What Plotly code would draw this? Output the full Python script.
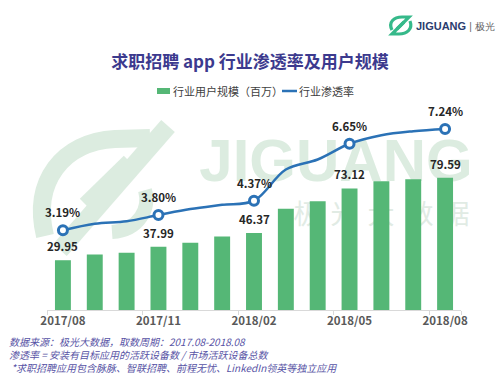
import plotly.graph_objects as go

# ---------------- data ----------------
months = ["2017/08", "2017/09", "2017/10", "2017/11", "2017/12", "2018/01", "2018/02",
          "2018/03", "2018/04", "2018/05", "2018/06", "2018/07", "2018/08"]
users_mn = [29.95, 33.4, 34.4, 37.99, 40.4, 44.2, 46.37, 60.9, 65.5, 73.12, 77.5, 78.7, 79.59]
penetration = [3.19, 3.45, 3.55, 3.80, 4.04, 4.21, 4.37, 5.62, 6.02, 6.65, 6.99, 7.15, 7.24]
labeled_idx = [0, 3, 6, 9, 12]
tick_months = [months[i] for i in labeled_idx]

title_text = "求职招聘 app 行业渗透率及用户规模"
legend_bar = "行业用户规模（百万）"
legend_line = "行业渗透率"
notes = ["数据来源：极光大数据，取数周期：2017.08-2018.08",
         "渗透率 = 安装有目标应用的活跃设备数 / 市场活跃设备总数",
         " *求职招聘应用包含脉脉、智联招聘、前程无忧、LinkedIn领英等独立应用"]

# ---------------- style ----------------
W, H = 500, 375
ML, MR, MT, MB = 47, 39, 100, 65
PW, PH = W - ML - MR, H - MT - MB
FONT = "Noto Sans CJK SC"
BAR_C = "#55b776"
LINE_C = "#2b72b6"
TITLE_C = "#3c3a8e"
NOTE_C = "#5753a5"
WM_C = "#dcece0"


def px(x):
    return (x - ML) / PW


def py(y):
    return (H - MB - y) / PH


def path(pts_cmd):
    out = []
    for tok in pts_cmd:
        if isinstance(tok, str):
            out.append(tok)
        else:
            out.append(f"{px(tok[0]):.4f},{py(tok[1]):.4f}")
    return " ".join(out)


fig = go.Figure()

# watermark (base subplot, drawn beneath the chart)
fig.add_trace(go.Scatter(
    x=[px(336)], y=[py(166)], mode="text", text=["JIGUANG"], cliponaxis=False,
    textfont=dict(family="Liberation Sans", size=60, color=WM_C, weight="bold"),
    hoverinfo="skip", showlegend=False, xaxis="x", yaxis="y"))
fig.add_trace(go.Scatter(
    x=[px(v) for v in (307, 344, 381, 420, 456)], y=[py(217)] * 5, mode="text",
    text=list("极光大数据"), cliponaxis=False,
    textfont=dict(family=FONT, size=27, color="#e1ebe4"),
    hoverinfo="skip", showlegend=False, xaxis="x", yaxis="y"))

# bars
fig.add_trace(go.Bar(
    x=months, y=users_mn, marker=dict(color=BAR_C, line=dict(width=0)),
    width=0.5, name=legend_bar, showlegend=False, xaxis="x2", yaxis="y2"))

# line
fig.add_trace(go.Scatter(
    x=months, y=penetration, mode="lines",
    line=dict(color=LINE_C, width=2.5, shape="spline", smoothing=1.0),
    name=legend_line, showlegend=False, xaxis="x2", yaxis="y3"))
fig.add_trace(go.Scatter(
    x=[months[i] for i in labeled_idx], y=[penetration[i] for i in labeled_idx],
    mode="markers", cliponaxis=False,
    marker=dict(size=9, color="white", line=dict(color=LINE_C, width=3)),
    showlegend=False, xaxis="x2", yaxis="y3"))

annotations = []
for i in labeled_idx:
    annotations.append(dict(
        x=months[i], y=users_mn[i], xref="x2", yref="y2", text=f"<b>{users_mn[i]:.2f}</b>",
        showarrow=False, yanchor="bottom", yshift=4,
        font=dict(family=FONT, size=11.5, color="#262626")))
    annotations.append(dict(
        x=months[i], y=penetration[i], xref="x2", yref="y3", text=f"<b>{penetration[i]:.2f}%</b>",
        showarrow=False, yanchor="bottom", yshift=8,
        font=dict(family=FONT, size=11.5, color="#262626")))

# custom legend
annotations.append(dict(x=px(171), y=py(91), xref="paper", yref="paper", xanchor="left",
                        yanchor="middle", text=legend_bar, showarrow=False,
                        font=dict(family=FONT, size=11, color="#404040")))
annotations.append(dict(x=px(297), y=py(91), xref="paper", yref="paper", xanchor="left",
                        yanchor="middle", text=legend_line, showarrow=False,
                        font=dict(family=FONT, size=11, color="#404040")))

# footnotes
for k, t in enumerate(notes):
    annotations.append(dict(x=px(7), y=py(341 + 13 * k), xref="paper", yref="paper",
                            xanchor="left", yanchor="middle", text=f"<i>{t}</i>",
                            showarrow=False,
                            font=dict(family=FONT, size=10, color=NOTE_C)))

# logo text
annotations.append(dict(x=px(414), y=py(26), xref="paper", yref="paper", xanchor="left",
                        yanchor="middle",
                        text="<b>JIGUANG</b> <span style='color:#666;font-size:10px'>| 极光</span>",
                        showarrow=False,
                        font=dict(family="Liberation Sans", size=11, color="#2b3c6e")))

shapes = [
    # legend swatches
    dict(type="rect", xref="paper", yref="paper", x0=px(157), x1=px(170), y0=py(94), y1=py(88),
         fillcolor=BAR_C, line=dict(width=0)),
    dict(type="line", xref="paper", yref="paper", x0=px(282), x1=px(297), y0=py(91), y1=py(91),
         line=dict(color=LINE_C, width=2.5)),
    # watermark logo (faint)
    dict(type="path", xref="paper", yref="paper", layer="below",
         path=path(["M", (45, 236), "C", (32, 182), (62, 142), (115, 139), "L", (150, 138)]),
         line=dict(color=WM_C, width=18)),
    dict(type="path", xref="paper", yref="paper", layer="below",
         path=path(["M", (60, 250), "L", (168, 126)]),
         line=dict(color=WM_C, width=18)),
    dict(type="path", xref="paper", yref="paper", layer="below",
         path=path(["M", (84, 203), "L", (128, 160)]),
         line=dict(color=WM_C, width=12)),
    dict(type="path", xref="paper", yref="paper", layer="below",
         path=path(["M", (112, 232), "C", (140, 230), (150, 208), (145, 190)]),
         line=dict(color=WM_C, width=14)),
    # logo icon (top-right)
    dict(type="path", xref="paper", yref="paper",
         path=path(["M", (392, 30), "C", (388, 22), (394, 17), (402, 17), "L", (409, 17),
                    "L", (397, 29)]),
         line=dict(color="#36b98a", width=3.2)),
    dict(type="path", xref="paper", yref="paper",
         path=path(["M", (410, 21), "C", (413, 29), (407, 34), (399, 34), "L", (392, 34),
                    "L", (404, 22)]),
         line=dict(color="#36b98a", width=3.2)),
]

fig.update_layout(
    width=W, height=H,
    margin=dict(l=ML, r=MR, t=MT, b=MB, pad=0),
    paper_bgcolor="white", plot_bgcolor="rgba(0,0,0,0)",
    font=dict(family=FONT, color="#404040"),
    showlegend=False,
    title=dict(text=f"<b>{title_text}</b>", x=0.5, xanchor="center", y=1 - 62 / H,
               yanchor="middle", font=dict(family=FONT, size=17, color=TITLE_C)),
    xaxis=dict(range=[0, 1], visible=False, fixedrange=True),
    yaxis=dict(range=[0, 1], visible=False, fixedrange=True),
    xaxis2=dict(overlaying="x", anchor="y2", type="category", categoryorder="array",
                categoryarray=months, range=[-0.5, len(months) - 0.5],
                tickmode="array", tickvals=tick_months, ticktext=tick_months,
                ticks="outside", tickson="boundaries", ticklen=4, tickcolor="#d9d9d9",
                tickangle=0,
                showline=True, linecolor="#d9d9d9", linewidth=1, showgrid=False,
                tickfont=dict(family=FONT, size=11.5, color="#595959", weight="bold"),
                fixedrange=True),
    yaxis2=dict(overlaying="y", range=[0, 126.35], visible=False, fixedrange=True),
    yaxis3=dict(overlaying="y", anchor="x2", range=[0, 8.4], visible=False, fixedrange=True),
    annotations=annotations,
    shapes=shapes,
)

fig.write_html("out.html", config={"displayModeBar": False},
               post_script="document.body.style.margin='0px';")
